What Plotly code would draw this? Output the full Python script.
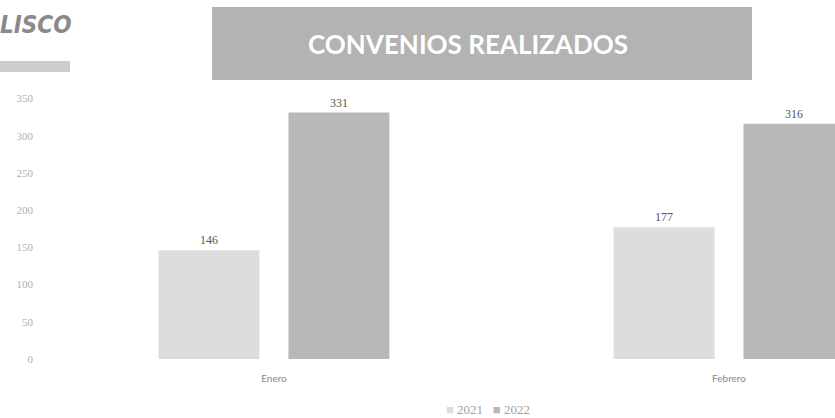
import plotly.graph_objects as go

months = ["Enero", "Febrero"]
series_names = ["2021", "2022"]
values_2021 = [146, 177]
values_2022 = [331, 316]
y_ticks = [0, 50, 100, 150, 200, 250, 300, 350]
title_text = "CONVENIOS REALIZADOS"
logo_text = "LISCO"

colors = {"2021": "#dddddd", "2022": "#b8b8b8"}

fig = go.Figure()
for name, vals in zip(series_names, [values_2021, values_2022]):
    fig.add_trace(go.Bar(
        x=months, y=vals, name=name, showlegend=False,
        marker=dict(color=colors[name], line=dict(width=0)),
        texttemplate="%{y}", textposition="outside", cliponaxis=False,
        textfont=dict(family="Liberation Serif", size=12, color="#555555"),
    ))

# plot-area pixel geometry helpers
L, R, T, B = 46, 0, 91, 59
W, H = 835, 418
pw, ph = W - L - R, H - T - B
def px(x):
    return (x - L) / pw
def py(y):
    return (H - B - y) / ph

legend_html = "   ".join(
    '<span style="color:%s">■</span> %s' % (colors[n], n) for n in series_names
)

fig.update_layout(
    width=W, height=H,
    margin=dict(l=L, r=R, t=T, b=B),
    paper_bgcolor="white", plot_bgcolor="white",
    barmode="group", bargap=0.429, bargroupgap=0.223,
    xaxis=dict(range=[-0.501, 1.233], showgrid=False, showline=False, zeroline=False,
               ticks="", tickfont=dict(family="Lato", size=10, color="#8a8a8a"),
               ticklabelstandoff=12),
    yaxis=dict(range=[0, 360], tickvals=y_ticks, showgrid=False, showline=False,
               zeroline=False, ticks="",
               tickfont=dict(family="Liberation Serif", size=11, color="#b0b0b0"),
               ticklabelstandoff=12),
    shapes=[
        dict(type="rect", xref="paper", yref="paper",
             x0=px(212), x1=px(752), y0=py(80), y1=py(7),
             fillcolor="#b3b3b3", line=dict(width=0), layer="below"),
        dict(type="rect", xref="paper", yref="paper",
             x0=px(0), x1=px(70), y0=py(72), y1=py(61),
             fillcolor="#cccccc", line=dict(width=0), layer="below"),
    ],
    annotations=[
        dict(text="<b>" + title_text + "</b>", xref="paper", yref="paper", x=px(468), y=py(44),
             xanchor="center", yanchor="middle", showarrow=False,
             font=dict(family="Lato", size=26, color="white")),
        dict(text="<b><i>" + logo_text + "</i></b>", xref="paper", yref="paper",
             x=px(-2), y=py(25), xanchor="left", yanchor="middle", showarrow=False,
             font=dict(family="DejaVu Sans Condensed", size=24, color="#8a8a8a")),
        dict(text=legend_html, xref="paper", yref="paper", x=px(488), y=py(409),
             xanchor="center", yanchor="middle", showarrow=False,
             font=dict(family="Liberation Serif", size=13, color="#a0a0a0")),
    ],
)

fig.write_html("out.html")
